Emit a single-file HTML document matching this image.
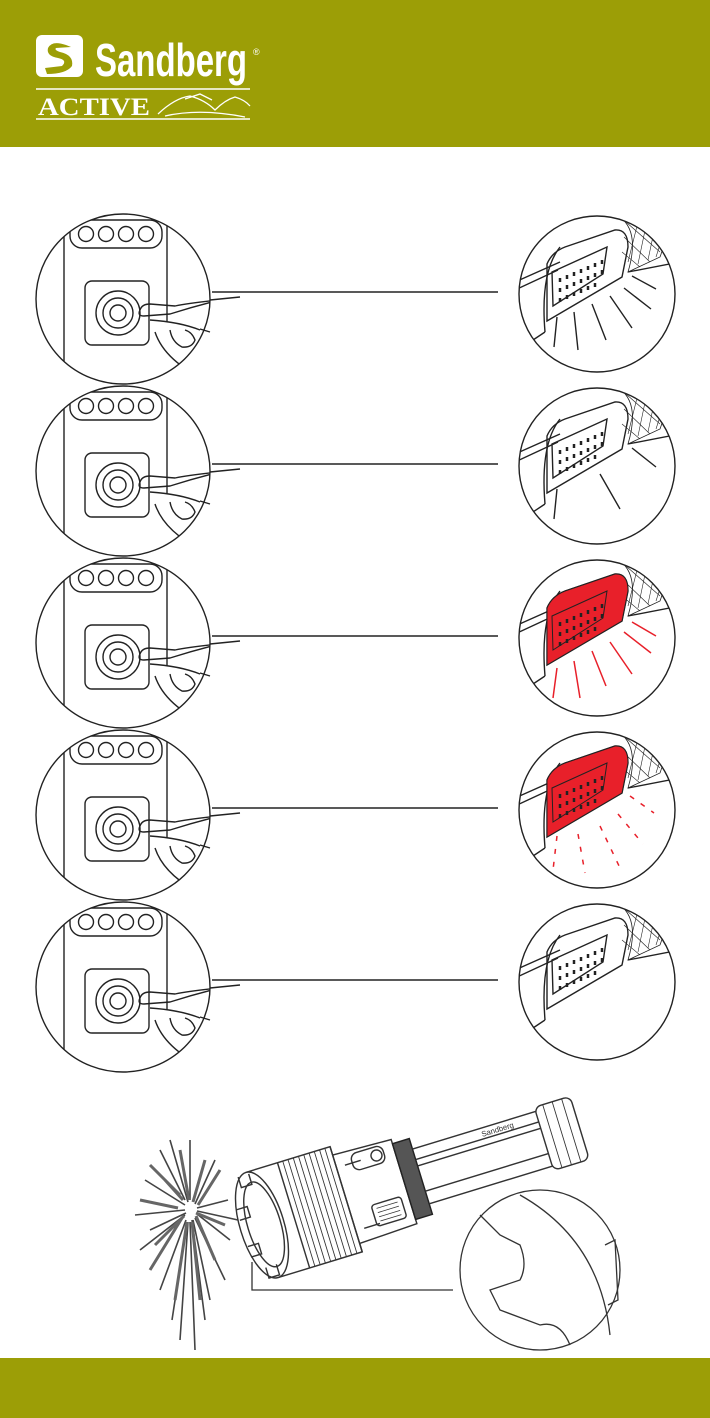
<!DOCTYPE html>
<html><head><meta charset="utf-8"><style>
html,body{margin:0;padding:0;background:#fff}
body{width:710px;height:1418px;position:relative;overflow:hidden;font-family:"Liberation Sans",sans-serif}
.hdr{position:absolute;left:0;top:0;width:710px;height:147px;background:#9c9e06}
.ftr{position:absolute;left:0;top:1358px;width:710px;height:60px;background:#9c9e06}
svg{position:absolute;left:0;top:0}
</style></head><body>
<div class="hdr"></div>
<div class="ftr"></div>
<svg width="710" height="1418" viewBox="0 0 710 1418">
<defs>
<clipPath id="cl"><ellipse cx="123" cy="7" rx="87" ry="85"/></clipPath>
<clipPath id="cr"><circle cx="597" cy="2" r="78"/></clipPath>
<g id="left" fill="none" stroke="#222" stroke-width="1.4">
 <g clip-path="url(#cl)">
  <line x1="64" y1="-90" x2="64" y2="100"/>
  <line x1="167" y1="-90" x2="167" y2="30"/>
  <rect x="70" y="-72" width="92" height="28" rx="12"/>
  <circle cx="86" cy="-58" r="7.5"/><circle cx="106" cy="-58" r="7.5"/><circle cx="126" cy="-58" r="7.5"/><circle cx="146" cy="-58" r="7.5"/>
  <rect x="85" y="-11" width="64" height="64" rx="7"/>
  <circle cx="118" cy="21" r="22"/><circle cx="118" cy="21" r="15"/><circle cx="118" cy="21" r="8"/>
  <path d="M140 18 Q137 24 144 24 L170 22 Q195 14 220 8"/>
  <path d="M150 28 Q180 30 200 38"/>
  <path d="M170 38 Q172 50 182 55 Q192 56 195 48 Q192 40 185 38"/>
  <path d="M155 40 Q165 70 210 90"/>
  <path d="M140 18 Q142 12 150 12 L175 14 Q195 10 240 6"/>
 </g>
 <ellipse cx="123" cy="7" rx="87" ry="85"/>
 <path d="M210 8 L240 5 M200 37 L210 40" />
</g>
<g id="rbody" fill="none" stroke="#222" stroke-width="1.4">
 <g clip-path="url(#cr)">
  <path d="M515 -10 L560 -30 M515 -2 L558 -22"/>
  <path d="M560 -45 Q540 -20 545 40"/>
  <path d="M545 40 L530 50 L530 90"/>
  <path d="M547 -28 Q552 -40 565 -45 L615 -62 Q628 -63 628 -45 L622 -15 L547 29 Z"/>
  <path d="M552 -20 L607 -45 L603 -18 L553 14 Z"/>
  <g stroke-width="2.5">
   <path d="M560 -14v4M567 -17v4M574 -20v4M581 -23v4M588 -26v4M595 -29v4M602 -32v4"/>
   <path d="M560 -4v4M567 -7v4M574 -10v4M581 -13v4M588 -16v4M595 -19v4M602 -22v4"/>
   <path d="M560 6v4M567 3v4M574 0v4M581 -3v4M588 -6v4M595 -9v4"/>
  </g>
  <path d="M620 -75 Q640 -60 628 -20 L660 -35 Q670 -60 650 -80 Z" stroke-width="0.8"/>
  <path d="M626 -70 L660 -40 M630 -75 L665 -50 M636 -78 L668 -60 M624 -55 L650 -30 M622 -40 L640 -25 M640 -78 L628 -30 M648 -76 L638 -28 M656 -70 L648 -32 M664 -60 L656 -35" stroke-width="0.6"/>
  <path d="M628 -20 L680 -30"/>
 </g>
 <circle cx="597" cy="2" r="78"/>
</g>
</defs>

<!-- logo -->
<rect x="36" y="35" width="47" height="42" rx="6" fill="#fff"/>
<path d="M66 45 Q52 40 48 48 Q46 56 58 58 Q68 60 62 66 L45 68 L47 74 Q66 74 72 66 Q74 55 60 52 Q54 50 56 48 L71 47 Z" fill="#9c9e06"/>
<text x="95" y="76" font-size="46" font-weight="bold" fill="#fff" font-family="Liberation Sans Narrow, Liberation Sans, sans-serif" textLength="152" lengthAdjust="spacingAndGlyphs">Sandberg</text>
<text x="253" y="55" font-size="9" fill="#fff">®</text>
<line x1="36" y1="89" x2="250" y2="89" stroke="#fff" stroke-width="1.5"/>
<line x1="36" y1="119" x2="250" y2="119" stroke="#fff" stroke-width="1.5"/>
<text x="38" y="115" font-size="25" font-weight="bold" fill="#fff" font-family="Liberation Serif, serif" textLength="112" lengthAdjust="spacingAndGlyphs">ACTIVE</text>
<path d="M158 114 Q175 98 190 96 Q205 100 215 110 Q225 100 235 97 Q245 100 250 106 M165 116 Q200 108 245 117 M185 99 L200 94 L212 100" fill="none" stroke="#fff" stroke-width="1.3"/>

<!-- rows -->
<g transform="translate(0,292)"><use href="#left"/><use href="#rbody"/>
 <line x1="212" y1="0" x2="498" y2="0" stroke="#222" stroke-width="1.4"/>
 <path d="M557 25 L554 55 M574 20 L578 58 M592 12 L606 48 M610 4 L632 36 M624 -4 L651 17 M632 -16 L656 -3" stroke="#222" stroke-width="1.4"/>
</g>
<g transform="translate(0,464)"><use href="#left"/><use href="#rbody"/>
 <line x1="212" y1="0" x2="498" y2="0" stroke="#222" stroke-width="1.4"/>
 <path d="M557 25 L554 55 M600 10 L620 45 M632 -16 L656 3" stroke="#222" stroke-width="1.4"/>
</g>
<g transform="translate(0,636)"><use href="#left"/><use href="#rbody"/>
 <line x1="212" y1="0" x2="498" y2="0" stroke="#222" stroke-width="1.4"/>
 <path d="M547 -28 Q552 -40 565 -45 L615 -62 Q628 -63 628 -45 L622 -15 L547 29 Z" fill="#e8202a" stroke="#222" stroke-width="1"/>
 <path d="M552 -20 L607 -45 L603 -18 L553 14 Z" fill="none" stroke="#222"/>
 <g stroke="#222" stroke-width="2.5">
   <path d="M560 -14v4M567 -17v4M574 -20v4M581 -23v4M588 -26v4M595 -29v4M602 -32v4"/>
   <path d="M560 -4v4M567 -7v4M574 -10v4M581 -13v4M588 -16v4M595 -19v4M602 -22v4"/>
   <path d="M560 6v4M567 3v4M574 0v4M581 -3v4M588 -6v4M595 -9v4"/>
 </g>
 <path d="M557 32 L553 62 M574 25 L580 62 M592 15 L606 50 M610 6 L632 38 M624 -4 L651 17 M632 -14 L656 0" stroke="#e8202a" stroke-width="1.5"/>
</g>
<g transform="translate(0,808)"><use href="#left"/><use href="#rbody"/>
 <line x1="212" y1="0" x2="498" y2="0" stroke="#222" stroke-width="1.4"/>
 <path d="M547 -28 Q552 -40 565 -45 L615 -62 Q628 -63 628 -45 L622 -15 L547 29 Z" fill="#e8202a" stroke="#222" stroke-width="1"/>
 <path d="M552 -20 L607 -45 L603 -18 L553 14 Z" fill="none" stroke="#222"/>
 <g stroke="#222" stroke-width="2.5">
   <path d="M560 -14v4M567 -17v4M574 -20v4M581 -23v4M588 -26v4M595 -29v4M602 -32v4"/>
   <path d="M560 -4v4M567 -7v4M574 -10v4M581 -13v4M588 -16v4M595 -19v4M602 -22v4"/>
   <path d="M560 6v4M567 3v4M574 0v4M581 -3v4M588 -6v4M595 -9v4"/>
 </g>
 <path d="M557 28 L553 62 M578 26 L585 65 M600 18 L620 60 M618 6 L643 36 M630 -12 L654 5" stroke="#e8202a" stroke-width="1.5" stroke-dasharray="5 8"/>
</g>
<g transform="translate(0,980)"><use href="#left"/><use href="#rbody"/>
 <line x1="212" y1="0" x2="498" y2="0" stroke="#222" stroke-width="1.4"/>
</g>

<!-- burst -->
<g fill="none" stroke="#444" stroke-width="1.6">
 <path d="M160 1150 L185 1200 M145 1180 L185 1205 M135 1215 L185 1210 M140 1250 L185 1215 M160 1290 L186 1220 M180 1340 L188 1222 M195 1350 L190 1222 M205 1320 L192 1220 M225 1280 L195 1218 M230 1240 L197 1214 M228 1200 L197 1208 M215 1160 L195 1204 M190 1140 L190 1200 M170 1140 L188 1202 M150 1230 L186 1213 M210 1300 L193 1220 M172 1320 L187 1222 M238 1220 L197 1211"/>
 <path d="M150 1165 L180 1195 M140 1200 L178 1208 M150 1270 L182 1218 M220 1170 L198 1205 M215 1260 L196 1216 M165 1180 L183 1200 M155 1245 L184 1216 M175 1300 L187 1222 M200 1300 L192 1222 M225 1225 L196 1213 M205 1160 L193 1202 M180 1150 L189 1200" stroke-width="3" stroke="#666"/>
</g>

<!-- flashlight -->
<g fill="none" stroke="#333" stroke-width="1.3" transform="translate(262,1225) rotate(-17) scale(1.1)">
 <path d="M0 -50 L80 -50 L80 50 L0 50"/>
 <ellipse cx="0" cy="0" rx="20" ry="50" fill="#fff"/>
 <ellipse cx="2" cy="0" rx="15" ry="40"/>
 <path d="M-18 -20 h10 v10 h-10 M-18 15 h10 v10 h-10 M-8 -48 v10 h10 v-10 M-8 38 v10 h10 v-10"/>
 <path d="M30 -50 L30 50 M80 -50 L80 50"/>
 <g stroke-width="0.8">
  <path d="M35 -50 V50 M40 -50 V50 M45 -50 V50 M50 -50 V50 M55 -50 V50 M60 -50 V50 M65 -50 V50 M70 -50 V50 M75 -50 V50"/>
 </g>
 <path d="M80 -42 L135 -40 L135 40 L80 42"/>
 <path d="M88 -30 h15 M88 30 h15"/>
 <rect x="95" y="-38" width="30" height="16" rx="6"/>
 <circle cx="118" cy="-30" r="5"/>
 <rect x="100" y="12" width="28" height="20" rx="3"/>
 <g stroke-width="0.7"><path d="M104 16 h20 M104 20 h20 M104 24 h20 M104 28 h20"/></g>
 <rect x="135" y="-36" width="16" height="72" fill="#555" stroke="#222"/>
 <path d="M151 -26 L268 -26 M151 26 L268 26 M151 -16 L268 -16 M151 -10 L268 -10 M151 14 L268 14"/>
 <rect x="268" y="-30" width="34" height="60" rx="6"/>
 <path d="M276 -30 V30 M285 -30 V30 M294 -30 V30" stroke-width="0.8"/>
 <text x="215" y="-18" font-size="7" fill="#333" stroke="none">Sandberg</text>
</g>

<g fill="none" stroke="#333" stroke-width="1.3">
 <polyline points="252,1262 252,1290 453,1290"/>
 <circle cx="540" cy="1270" r="80" fill="#fff"/>
 <path d="M480 1215 L500 1235 L520 1245 Q528 1265 520 1280 L490 1290 L500 1310 L540 1325 Q560 1320 570 1345"/>
 <path d="M520 1195 Q600 1240 610 1335"/>
 <path d="M605 1245 L615 1240 L618 1300 L608 1305"/>
</g>
</svg>
</body></html>
